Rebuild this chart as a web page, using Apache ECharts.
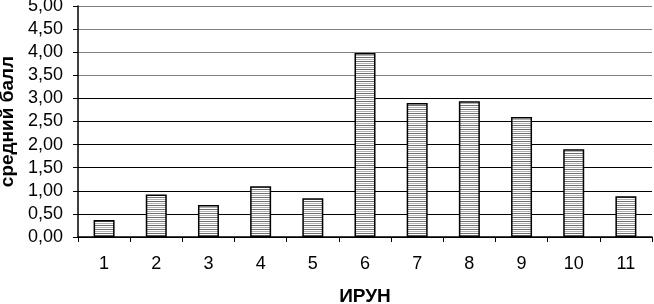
<!DOCTYPE html>
<html>
<head>
<meta charset="utf-8">
<script src="https://cdn.jsdelivr.net/npm/echarts@6/dist/echarts.min.js"></script>
<style>
  html, body { margin: 0; padding: 0; background: #fff; }
  #chart { width: 654px; height: 304px; }
</style>
</head>
<body>
<div id="chart"></div>
<script>
const categories = ["1", "2", "3", "4", "5", "6", "7", "8", "9", "10", "11"];
const scores = [0.37, 0.92, 0.69, 1.1, 0.84, 3.98, 2.9, 2.94, 2.6, 1.9, 0.88];

// horizontal stripe fill like the original print
const stripe = document.createElement("canvas");
stripe.width = 4;
stripe.height = 4;
const ctx = stripe.getContext("2d");
ctx.fillStyle = "#fff";
ctx.fillRect(0, 0, 4, 4);
ctx.fillStyle = "#6e6e6e";
ctx.fillRect(0, 1, 4, 1);
ctx.fillStyle = "#b0b0b0";
ctx.fillRect(0, 3, 4, 1);

const chart = echarts.init(document.getElementById("chart"));

const gridColors = ["#000", "#000", "#000", "#000", "#000", "#000", "#000",
  "#808080", "#808080", "#808080", "#808080"];

chart.setOption({
  animation: false,
  textStyle: { fontFamily: "Liberation Sans, Arial, sans-serif" },
  grid: { left: 78, right: 2, top: 6, bottom: 67, outerBoundsMode: "none" },
  xAxis: {
    type: "category",
    data: categories,
    name: "ИРУН",
    nameLocation: "middle",
    nameGap: 50,
    nameTextStyle: { fontSize: 19, fontWeight: "bold", color: "#000" },
    axisLine: { lineStyle: { color: "#000", width: 1.5 } },
    axisTick: { show: true, length: 5, inside: false, lineStyle: { color: "#000" } },
    axisLabel: { fontSize: 18, color: "#000", margin: 18 },
  },
  yAxis: {
    type: "value",
    min: 0,
    max: 5,
    interval: 0.5,
    name: "средний балл",
    nameLocation: "middle",
    nameGap: 55,
    nameTextStyle: { fontSize: 19, fontWeight: "bold", color: "#000" },
    axisLine: { show: true, lineStyle: { color: "#000", width: 1.5 } },
    axisTick: { show: true, length: 5, lineStyle: { color: "#000" } },
    axisLabel: {
      fontSize: 18,
      color: "#000",
      margin: 15,
      formatter: (v) => v.toFixed(2).replace(".", ","),
    },
    splitLine: { show: true, lineStyle: { color: gridColors, width: 1.2 } },
  },
  series: [
    {
      type: "bar",
      data: scores,
      barWidth: 21,
      itemStyle: {
        color: { image: stripe, repeat: "repeat" },
        borderColor: "#000",
        borderWidth: 1.5,
      },
    },
  ],
});
</script>
</body>
</html>
